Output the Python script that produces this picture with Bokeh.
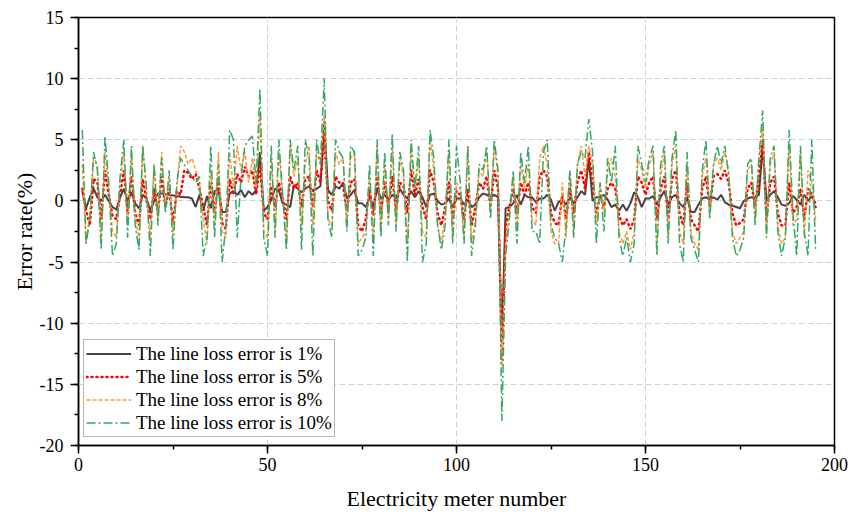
from bokeh.plotting import figure
from bokeh.models import Range1d, SingleIntervalTicker, Legend, LegendItem, PrintfTickFormatter
from bokeh.embed import file_html
from bokeh.resources import INLINE

meter = list(range(1, 196))

err_1 = [
    0.8, -0.6, 0.3, 1.0, 0.3, 0.0, 0.5, 0.0, -0.5, -0.7,
    0.3, 1.0, 0.0, 0.7, -0.2, -0.6, 0.5, 0.2, -0.8, 0.0,
    0.6, 0.6, 0.55, 0.5, 0.45, 0.4, 0.35, 0.3, 0.3, 0.2,
    -0.5, 0.5, -0.8, 0.4, -0.6, 0.8, 0.9, -0.9, -0.9, 0.6,
    0.8, 0.5, 0.9, 0.3, 0.8, 0.5, 0.9, 4.0, -0.8, -0.5,
    0.1, 1.0, 0.9, -0.2, -0.3, -0.5, 1.3, 1.0, 0.7, 1.0,
    1.2, 0.8, 1.0, 1.2, 6.5, 0.9, 0.5, 1.2, 1.0, 1.5,
    0.2, 0.5, 0.9, -0.2, -0.2, -0.5, 0.3, -0.5, 1.0, 0.2,
    0.5, 0.1, 0.5, 0.2, 1.0, 0.5, 0.2, 0.8, 0.3, 0.8,
    0.3, -0.5, 0.5, 0.6, 0.0, -0.3, -0.2, 0.2, -0.5, 0.2,
    0.2, -0.3, 0.1, -0.5, -0.3, 0.3, 0.6, 0.5, 0.3, 0.5,
    0.3, -11.5, -0.6, -0.5, -0.2, 0.5, -0.3, 0.5, 0.3, 0.3,
    -0.1, 0.2, 0.2, 0.5, 0.1, -0.8, -0.1, 0.1, -0.3, 0.3,
    -0.2, 0.3, 0.8, 0.5, 3.5, 0.0, 0.3, 0.3, 0.5, 0.1,
    -0.5, -0.3, -0.8, -0.3, -0.8, -0.2, 0.7, 0.3, -0.5, 0.2,
    0.2, 0.4, -0.3, 0.3, 0.8, -0.3, 0.3, 0.5, -0.2, -0.5,
    0.3, -0.9, -0.9, -0.3, 0.2, 0.3, 0.1, 0.3, 0.1, 0.5,
    -0.1, -0.3, -0.4, -0.5, -0.6, 0.0, 0.2, 0.3, 0.3, 0.5,
    4.5, 0.0, 0.5, 0.8, 0.3, -0.3, -0.4, -0.2, 0.4, 0.1,
    -0.3, 0.5, 0.0, 0.4, -0.2,
]

err_5 = [
    1.0, -0.8, -2.0, 1.8, 1.5, -1.5, 2.5, 0.5, -1.2, -1.5,
    0.5, 2.5, -0.8, 2.0, -1.0, -2.0, 1.8, 0.0, -1.5, 1.0,
    -1.0, 2.0, -0.5, 1.0, -1.8, 0.8, 0.5, 2.5, 2.3, 1.8,
    2.2, 1.0, -0.5, -2.0, 1.5, -1.0, 2.0, -1.8, -2.3, 1.8,
    0.5, 2.2, 1.5, 2.8, 2.0, 2.5, 0.5, 3.0, -1.0, -1.5,
    1.2, -0.5, 1.5, 0.3, -1.5, 2.0, 1.0, 1.5, -0.5, 1.8,
    2.0, -0.5, 2.5, 1.5, 5.5, 0.0, -0.8, 2.0, 1.5, 1.2,
    -0.8, 1.5, 1.8, -2.0, -2.5, -1.5, 1.0, -1.2, 2.0, -1.0,
    1.5, -0.5, 2.0, -0.8, 1.5, 1.2, -1.0, 2.5, 0.5, 1.8,
    -0.5, -1.5, 2.5, 1.5, -1.0, -2.0, -0.5, 1.5, -1.5, 0.8,
    0.5, -1.5, 1.0, -2.0, -0.5, 1.5, 1.0, 2.0, -0.5, 2.5,
    1.0, -13.0, -2.0, -0.5, 1.0, -1.0, 1.5, 0.5, 1.5, -0.5,
    -1.0, 2.0, 2.5, 2.0, -1.0, -1.8, -2.0, 0.5, -1.5, 1.0,
    -1.0, 1.5, 2.5, 1.0, 4.0, 1.5, -1.0, 0.5, -0.5, 1.0,
    1.5, 1.0, -1.2, -2.0, -1.5, -2.3, -1.5, 2.0, 1.5, 0.5,
    1.5, 2.0, -1.5, 1.0, 2.0, -1.5, 1.8, 2.5, -1.0, -2.0,
    1.5, -1.5, -2.0, -2.5, 1.0, 2.0, -0.5, 2.0, 2.2, 1.8,
    2.5, 1.5, -1.0, -2.0, -1.8, -1.5, 1.0, 1.5, -0.5, 2.0,
    5.0, -1.5, 1.5, 2.0, -1.0, -2.0, -2.0, 1.5, -1.0, -0.5,
    1.0, -1.5, 1.0, 0.5, -0.5,
]

err_8 = [
    3.0, -3.5, -1.0, 3.5, 3.0, -3.0, 4.0, 1.0, -2.5, -3.0,
    1.5, 4.0, -2.0, 3.5, -1.5, -3.0, 4.5, 0.5, -3.0, 3.0,
    -1.5, 4.0, -0.5, 2.0, -2.8, 1.0, 4.5, 4.0, 3.0, 3.5,
    2.5, 1.5, -1.5, -3.5, 2.5, -2.0, 4.0, -2.5, -3.0, 4.0,
    1.0, 4.5, 2.5, 4.0, 1.5, 3.5, 1.0, 7.0, -2.5, -3.0,
    3.5, -2.5, 4.0, 0.5, -3.5, 4.5, 2.0, 3.5, -2.0, 3.0,
    4.5, -2.0, 4.0, 3.0, 7.0, -1.5, -2.0, 4.0, 3.0, 3.5,
    -2.0, 3.5, 4.0, -3.5, -3.0, -2.5, 2.0, -3.0, 4.5, -2.5,
    3.0, -1.5, 4.5, -2.0, 3.5, 2.0, -3.5, 4.0, 1.0, 3.5,
    -2.5, -3.0, 5.0, 2.5, -2.0, -3.5, -1.0, 4.0, -3.0, 1.5,
    1.0, -3.0, 4.5, -3.5, -1.5, 2.5, 2.0, 4.0, -1.0, 4.5,
    2.0, -13.5, -3.5, -1.0, 2.0, -2.0, 3.0, 1.0, 3.0, -1.5,
    -2.0, 3.5, 4.5, 3.0, -2.5, -3.5, -3.5, 1.5, -3.0, 2.5,
    -2.5, 3.0, 4.5, 2.0, 4.5, 3.0, -2.0, 1.5, -1.0, 2.5,
    3.5, 2.0, -2.5, -3.5, -2.5, -4.0, -2.5, 3.5, 2.5, 1.0,
    3.0, 4.0, -3.5, 2.0, 4.0, -3.0, 3.0, 4.5, -2.5, -3.5,
    3.0, -2.5, -3.5, -4.0, 2.0, 3.5, -1.0, 3.0, 3.5, 2.5,
    4.0, 2.5, -2.5, -3.5, -3.0, -2.5, 2.5, 3.0, -1.5, 3.5,
    6.0, -2.5, 3.0, 4.0, -2.0, -3.5, -3.0, 4.5, -2.0, -1.5,
    4.0, -3.0, 2.5, 1.5, -1.5,
]

err_10 = [
    5.8, -3.5, -1.5, 4.0, 2.5, -4.0, 5.3, 1.5, -4.5, -3.5,
    2.0, 5.0, -3.0, 4.5, -2.0, -4.0, 4.5, 1.0, -4.5, 3.0,
    -2.0, 3.5, -1.0, 2.5, -4.0, 1.5, 3.5, 3.0, 2.5, 2.0,
    1.5, 2.0, -4.5, -3.0, 4.5, -3.0, 3.0, -5.0, -2.0, 5.8,
    5.0, -3.0, 2.0, 4.5, 5.0, 5.3, 1.5, 9.2, -3.0, -4.5,
    4.5, -3.0, 5.0, 0.5, -4.0, 5.0, 2.5, 4.5, -4.0, 5.0,
    3.5, -4.5, 5.0, 3.0, 10.0, -1.5, -3.0, 5.0, 4.0, 3.5,
    -2.5, 4.5, 4.0, -4.5, -4.0, -3.0, 3.0, -4.5, 5.0, -3.0,
    4.0, -2.0, 5.5, -2.5, 4.0, 2.5, -5.0, 5.0, 1.0, 4.5,
    -5.0, -3.5, 5.8, 3.5, -2.0, -4.0, -2.0, 5.0, -3.5, 4.5,
    1.5, -3.5, 4.5, -4.5, -2.0, 3.0, 2.5, 4.5, -1.5, 5.0,
    2.5, -18.0, -4.5, -1.5, 2.5, -3.5, 4.0, 1.5, 4.5, -2.5,
    -2.5, -3.5, 4.0, 5.0, -2.0, -3.0, -3.5, -5.0, -2.0, 2.5,
    -3.0, 3.0, 4.0, 3.5, 6.7, 4.0, -3.5, 1.5, -2.5, 3.5,
    1.5, 4.5, -3.0, -4.5, -3.0, -5.0, -3.5, 4.5, 3.0, 1.5,
    3.5, 4.5, -4.5, 3.0, 4.5, -3.5, 3.5, 5.8, -3.5, -5.0,
    4.0, -3.0, -4.0, -5.0, 2.5, 5.0, -1.5, 3.0, 4.5, 3.0,
    4.5, 2.0, -3.0, -4.5, -4.0, -3.0, 3.0, 3.5, -2.0, 3.5,
    7.4, -3.0, 3.5, 4.5, -2.5, -4.5, -3.0, 5.8, -1.0, -4.5,
    4.5, -2.5, -4.5, 5.0, -4.0,
]

labels = ["The line loss error is 1%", "The line loss error is 5%",
          "The line loss error is 8%", "The line loss error is 10%"]

FONT = "Liberation Serif"

p = figure(width=848, height=514, output_backend="svg", toolbar_location=None,
           x_range=Range1d(0, 200), y_range=Range1d(-20, 15),
           min_border_left=78, min_border_right=14, min_border_top=17,
           min_border_bottom=69, background_fill_color="white")

p.outline_line_color = "black"
p.outline_line_width = 1.5

r1 = p.line(meter, err_1, line_color="#444444", line_width=2)
r5 = p.line(meter, err_5, line_color="#ff0000", line_width=2.5, line_dash="1 4",
            line_cap="round")
r8 = p.line(meter, err_8, line_color="#ff9a3c", line_width=1.5, line_dash="4 2")
r10 = p.line(meter, err_10, line_color="#34a866", line_width=1.5, line_dash="9 3 2 3")

p.xaxis.ticker = SingleIntervalTicker(interval=50, num_minor_ticks=2)
p.yaxis.ticker = SingleIntervalTicker(interval=5, num_minor_ticks=2)
p.xaxis.formatter = PrintfTickFormatter(format="%d")
p.yaxis.formatter = PrintfTickFormatter(format="%d")

for ax in (p.xaxis[0], p.yaxis[0]):
    ax.axis_line_color = "black"
    ax.axis_line_width = 1.5
    ax.major_tick_line_color = "black"
    ax.major_tick_line_width = 1.5
    ax.minor_tick_line_color = "black"
    ax.minor_tick_line_width = 1.5
    ax.major_tick_out = 8
    ax.major_tick_in = 0
    ax.minor_tick_out = 4
    ax.minor_tick_in = 0
    ax.major_label_text_font = FONT
    ax.major_label_text_font_size = "18px"
    ax.major_label_text_color = "black"
    ax.axis_label_text_font = FONT
    ax.axis_label_text_font_size = "22px"
    ax.axis_label_text_font_style = "normal"
    ax.axis_label_text_color = "black"

p.xaxis.axis_label = "Electricity meter number"
p.yaxis.axis_label = "Error rate(%)"
p.xaxis.major_label_standoff = 4
p.yaxis.major_label_standoff = 7
p.xaxis.axis_label_standoff = 12
p.yaxis.axis_label_standoff = 0

for g in (p.xgrid[0], p.ygrid[0]):
    g.grid_line_color = "#d2d2d2"
    g.grid_line_width = 1
    g.grid_line_dash = "6 3"

legend = Legend(items=[LegendItem(label=labels[0], renderers=[r1]),
                       LegendItem(label=labels[1], renderers=[r5]),
                       LegendItem(label=labels[2], renderers=[r8]),
                       LegendItem(label=labels[3], renderers=[r10])],
                location=(5, 8))
legend.label_text_font = FONT
legend.label_text_font_size = "19px"
legend.label_text_color = "black"
legend.glyph_width = 45
legend.glyph_height = 23
legend.label_height = 23
legend.label_standoff = 5
legend.spacing = 0
legend.padding = 2
legend.margin = 0
legend.border_line_color = "#707070"
legend.border_line_width = 1
legend.background_fill_alpha = 1.0
p.add_layout(legend)

open("out.html", "w").write(file_html(p, INLINE))
